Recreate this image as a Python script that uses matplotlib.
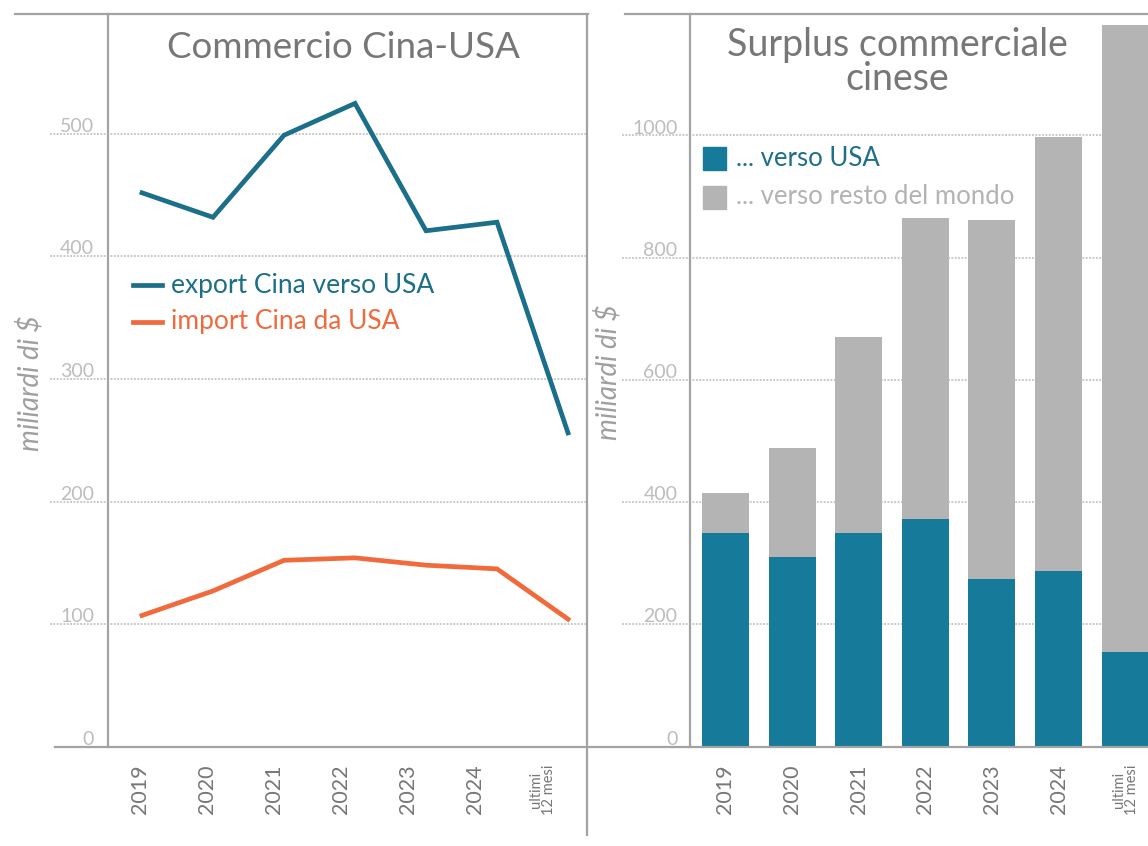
import matplotlib
matplotlib.use("Agg")
import matplotlib.pyplot as plt
from matplotlib.lines import Line2D
from matplotlib.patches import Rectangle
from matplotlib.transforms import ScaledTranslation

plt.rcParams['font.family'] = ['Lato', 'DejaVu Sans']

# ---- data (miliardi di $) ----
periods = ["2019", "2020", "2021", "2022", "2023", "2024", "ultimi\n12 mesi"]
export_to_usa = [452, 432, 499, 525, 421, 428, 256]
import_from_usa = [107, 127, 152, 154, 148, 145, 104]
surplus_usa = [349, 310, 349, 373, 274, 287, 155]
surplus_total = [415, 489, 670, 865, 862, 998, 1181]
surplus_rest = [t - u for t, u in zip(surplus_total, surplus_usa)]

left_yticks = [0, 100, 200, 300, 400, 500]
right_yticks = [0, 200, 400, 600, 800, 1000]

# ---- styling ----
W, H = 1148, 846
C_EXPORT = "#1c6f8a"
C_IMPORT = "#f06a3c"
C_BAR_USA = "#167a9b"
C_BAR_REST = "#b4b4b4"
C_AXIS = "#a3a3a3"
C_GRID = "#b8b8b8"
C_TICK = "#bdbdbd"
C_TEXT = "#777777"


def fx(px):
    return px / W


def fy(py):
    return 1 - py / H


fig = plt.figure(figsize=(W / 100, H / 100), dpi=100)
fig.patch.set_facecolor("white")

y_zero, y_top = 746.5, 14
ax1 = fig.add_axes([fx(108), fy(y_zero), fx(588 - 108), (y_zero - y_top) / H])
ax2 = fig.add_axes([fx(690), fy(y_zero), fx(1148 - 690), (y_zero - y_top) / H])

for ax in (ax1, ax2):
    for s in ax.spines.values():
        s.set_visible(False)
    ax.set_facecolor("none")
    ax.tick_params(length=0)

# ---- left panel: lines ----
xs = list(range(len(periods)))
ax1.plot(xs, export_to_usa, color=C_EXPORT, lw=3.4, solid_joinstyle="miter", zorder=3)
ax1.plot(xs, import_from_usa, color=C_IMPORT, lw=3.4, solid_joinstyle="miter", zorder=3)
ax1.set_ylim(0, (y_zero - y_top) / 1.225)
ax1.set_xlim((108 - 142) / 71, (588 - 142) / 71)

label_pos1 = [i * 0.945 - 0.03 for i in xs]
ax1.set_xticks(label_pos1)
ax1.set_xticklabels(periods, rotation=90, color=C_TEXT, fontsize=15.5, va="top")
ax1.tick_params(axis="x", pad=13)
ax1.get_xticklabels()[-1].set_fontsize(10.5)
ax1.get_xticklabels()[-1].set_linespacing(0.9)

ax1.set_yticks(left_yticks)
ax1.set_yticklabels([str(v) for v in left_yticks], color=C_TICK, fontsize=14)
ax1.tick_params(axis="y", pad=10)

# ---- right panel: stacked bars ----
ax2.bar(xs, surplus_usa, width=0.706, color=C_BAR_USA, zorder=3)
ax2.bar(xs, surplus_rest, bottom=surplus_usa, width=0.706, color=C_BAR_REST, zorder=3)
ax2.set_ylim(0, (y_zero - y_top) / 0.611)
ax2.set_xlim((690 - 725.5) / 66.6, (1148 - 725.5) / 66.6)
ax2.set_xticks(xs)
ax2.set_xticklabels(periods, rotation=90, color=C_TEXT, fontsize=15.5, va="top")
ax2.tick_params(axis="x", pad=13)
ax2.get_xticklabels()[-1].set_fontsize(10.5)
ax2.get_xticklabels()[-1].set_linespacing(0.9)

ax2.set_yticks(right_yticks)
ax2.set_yticklabels([str(v) for v in right_yticks], color=C_TICK, fontsize=14)
ax2.tick_params(axis="y", pad=9)

# y labels sit just above their gridline
for ax in (ax1, ax2):
    for lab in ax.get_yticklabels():
        lab.set_transform(lab.get_transform() + ScaledTranslation(0, 9 / 100, fig.dpi_scale_trans))

# gridlines, reaching under the tick labels
for v in left_yticks[1:]:
    ax1.axhline(v, xmin=(50 - 108) / 480, xmax=1, color=C_GRID, lw=1.1,
                ls=(0, (1.2, 1.0)), clip_on=False, zorder=1)
for v in right_yticks[1:]:
    ax2.axhline(v, xmin=(622 - 690) / 458, xmax=1, color=C_GRID, lw=1.1,
                ls=(0, (1.2, 1.0)), clip_on=False, zorder=1)

# ---- frame lines ----
def fline(x0, y0, x1, y1, lw=1.6, color=C_AXIS):
    fig.add_artist(Line2D([fx(x0), fx(x1)], [fy(y0), fy(y1)], color=color, lw=lw,
                          transform=fig.transFigure, zorder=5))

fline(15, 14, 588, 14)
fline(625, 14, 1148, 14)
fline(108, 14, 108, y_zero)
fline(690, 14, 690, y_zero)
fline(587, 14, 587, 835)
fline(55, 747, 1148, 747)

# ---- titles ----
fig.text(fx(343), fy(47), "Commercio Cina-USA", ha="center", va="center",
         fontsize=26.5, color=C_TEXT)
fig.text(fx(897), fy(62), "Surplus commerciale\ncinese", ha="center", va="center",
         fontsize=27, color=C_TEXT, linespacing=0.9)

# ---- axis titles ----
fig.text(fx(30), fy(383), "miliardi di $", rotation=90, ha="center", va="center",
         fontsize=20, style="italic", color="#9f9f9f")
fig.text(fx(608), fy(372), "miliardi di $", rotation=90, ha="center", va="center",
         fontsize=20, style="italic", color="#9f9f9f")

# ---- legend: lines ----
for yy, col, txt in [(285, C_EXPORT, "export Cina verso USA"),
                     (322, C_IMPORT, "import Cina da USA")]:
    fig.add_artist(Line2D([fx(133), fx(162)], [fy(yy), fy(yy)], color=col, lw=3.4,
                          transform=fig.transFigure))
    fig.text(fx(171), fy(yy), txt, ha="left", va="center", fontsize=19, color=col)

# ---- legend: bars ----
for yy, col, tcol, txt in [(159, C_BAR_USA, "#1f6f8b", "... verso USA"),
                           (197, C_BAR_REST, "#b3b3b3", "... verso resto del mondo")]:
    fig.add_artist(Rectangle((fx(703), fy(yy + 11.5)), fx(23), 23 / H, color=col,
                             transform=fig.transFigure))
    fig.text(fx(736), fy(yy), txt, ha="left", va="center", fontsize=18.5, color=tcol)

fig.savefig("out.png", dpi=100, facecolor="white")
